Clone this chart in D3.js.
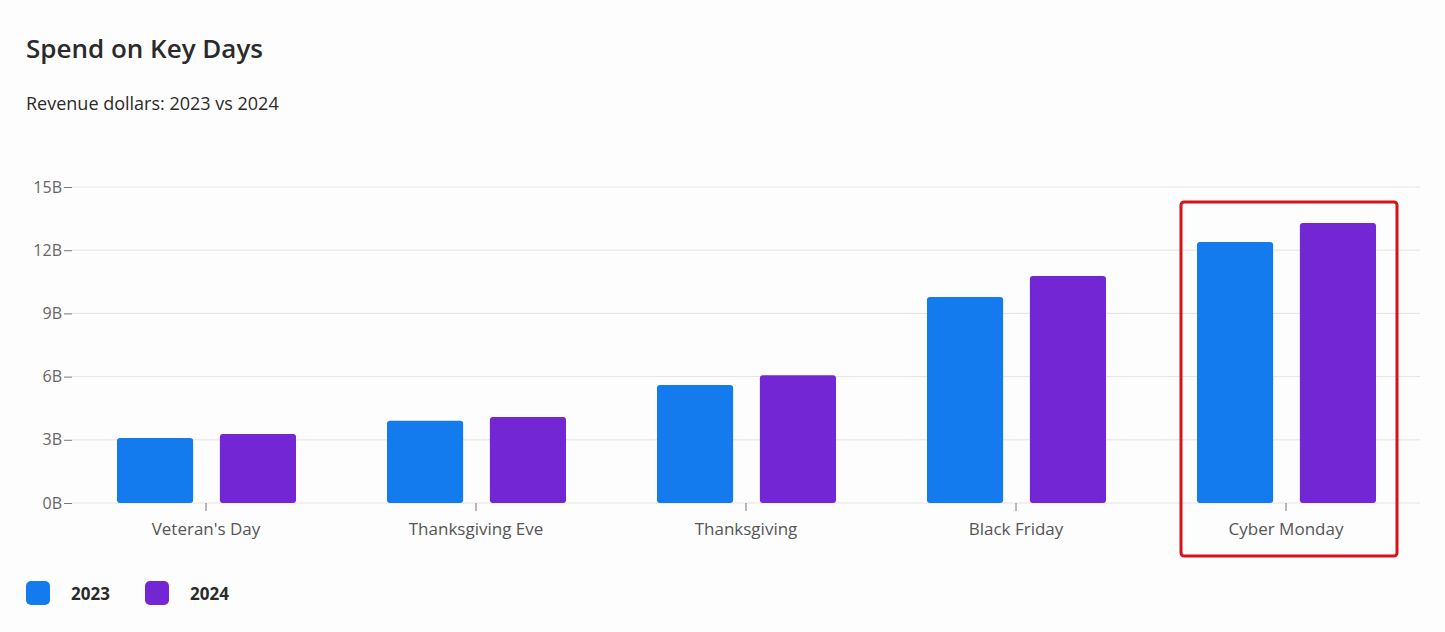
<!DOCTYPE html>
<html>
<head>
<meta charset="utf-8">
<script src="https://cdn.jsdelivr.net/npm/d3@7"></script>
<style>
  html, body { margin: 0; padding: 0; background: #fff; }
  body { font-family: 'Open Sans', Lato, sans-serif; }
  svg text { font-family: 'Open Sans', Lato, sans-serif; }
</style>
</head>
<body>
<svg id="chart" width="1445" height="632"></svg>
<script>
// data
var categories = ["Veteran's Day", "Thanksgiving Eve", "Thanksgiving", "Black Friday", "Cyber Monday"];
var years = ["2023", "2024"];
var values2023 = [3.08, 3.9, 5.6, 9.78, 12.39];
var values2024 = [3.27, 4.08, 6.07, 10.77, 13.29];
var yTicks = [0, 3, 6, 9, 12, 15];
var colors = ["#147bee", "#7326d4"];

var svg = d3.select("#chart");

svg.append("rect").attr("x", 0).attr("y", 0).attr("width", 1445).attr("height", 632).attr("fill", "#fdfdfd");

svg.append("text").attr("x", 26).attr("y", 58)
  .attr("font-size", 26).attr("font-weight", 600).attr("fill", "#2a2a2a")
  .text("Spend on Key Days");
svg.append("text").attr("x", 26).attr("y", 110)
  .attr("font-size", 18).attr("fill", "#2a2a2a")
  .text("Revenue dollars: 2023 vs 2024");

var x = d3.scaleBand().domain(categories).range([71, 1421]);
var inner = d3.scaleBand().domain(years).range([46, 225]).paddingInner(0.26);
var y = d3.scaleLinear().domain([0, 15]).range([503, 187]);

// gridlines
svg.append("g").selectAll("line").data(yTicks).join("line")
  .attr("x1", 72).attr("x2", 1420)
  .attr("y1", function(d) { return y(d); }).attr("y2", function(d) { return y(d); })
  .attr("stroke", "#e6e2e6").attr("stroke-width", 1);

// y axis
var yAxis = svg.append("g").attr("transform", "translate(72,0)")
  .call(d3.axisLeft(y).tickValues(yTicks).tickSize(8).tickPadding(2).tickFormat(function(d) { return d + "B"; }));
yAxis.select(".domain").remove();
yAxis.selectAll("line").attr("stroke", "#777");
yAxis.selectAll("text").attr("font-size", 16).attr("fill", "#666");

// x axis
var xAxis = svg.append("g").attr("transform", "translate(0,503)")
  .call(d3.axisBottom(x).tickSize(8).tickPadding(12));
xAxis.select(".domain").remove();
xAxis.selectAll("line").attr("stroke", "#777");
xAxis.selectAll("text").attr("font-size", 17).attr("fill", "#555");

// bars
var rows = categories.map(function(c, i) { return { cat: c, vals: [values2023[i], values2024[i]] }; });
var groups = svg.append("g").selectAll("g").data(rows).join("g")
  .attr("transform", function(d) { return "translate(" + x(d.cat) + ",0)"; });
groups.selectAll("rect").data(function(d) { return d.vals.map(function(v, j) { return { year: years[j], v: v, j: j }; }); })
  .join("rect")
  .attr("x", function(d) { return inner(d.year); })
  .attr("width", inner.bandwidth())
  .attr("y", function(d) { return y(d.v); })
  .attr("height", function(d) { return y(0) - y(d.v); })
  .attr("rx", 3)
  .attr("fill", function(d) { return colors[d.j]; });

// highlight box around Cyber Monday
svg.append("rect")
  .attr("x", x("Cyber Monday") + 30).attr("y", 202)
  .attr("width", 216).attr("height", 354)
  .attr("rx", 3).attr("fill", "none").attr("stroke", "#d8121b").attr("stroke-width", 3);

// legend
var legend = svg.append("g").selectAll("g").data(years).join("g")
  .attr("transform", function(d, i) { return "translate(" + (26 + i * 119) + ",581)"; });
legend.append("rect").attr("width", 24).attr("height", 24).attr("rx", 5)
  .attr("fill", function(d, i) { return colors[i]; });
legend.append("text").attr("x", 45).attr("y", 19)
  .attr("font-size", 17).attr("font-weight", 700).attr("fill", "#2a2a2a")
  .text(function(d) { return d; });
</script>
</body>
</html>
